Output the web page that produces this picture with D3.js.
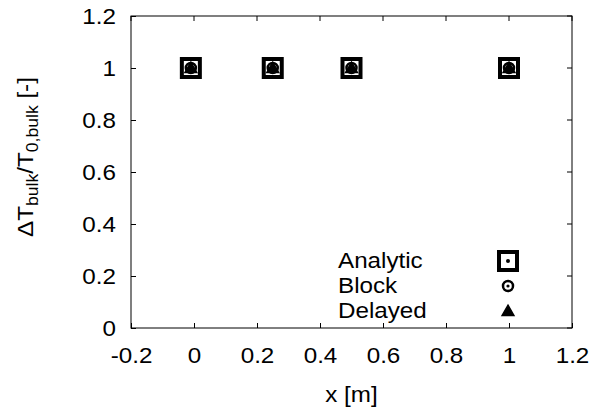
<!DOCTYPE html>
<html><head><meta charset="utf-8">
<script src="https://cdn.jsdelivr.net/npm/d3@7"></script>
<style>body{margin:0;background:#fff}svg{display:block;font-family:"Liberation Sans",Arial,sans-serif}</style>
</head><body><svg id="c" width="593" height="412"></svg>
<script>
const xPositions = [-0.01, 0.25, 0.5, 1.0];
const analytic = [1, 1, 1, 1];
const block = [1, 1, 1, 1];
const delayed = [1, 1, 1, 1];
const seriesNames = ["Analytic", "Block", "Delayed"];
const xTicks = [-0.2, 0, 0.2, 0.4, 0.6, 0.8, 1, 1.2];
const yTicks = [0, 0.2, 0.4, 0.6, 0.8, 1, 1.2];

const svg = d3.select("#c");
const L = 131, R = 572, T = 16, B = 328;
const x = d3.scaleLinear().domain([-0.2, 1.2]).range([L, R]);
const y = d3.scaleLinear().domain([0, 1.2]).range([B, T]);
const fs = 22, sx = 1.1;

svg.append("rect").attr("x", L).attr("y", T).attr("width", R - L).attr("height", B - T)
  .attr("fill", "none").attr("stroke", "#000").attr("stroke-width", 1);

const fmt = d => String(+d.toFixed(1)).replace("\u2212", "-");
const xa = svg.append("g").attr("transform", `translate(0,${B})`)
  .call(d3.axisBottom(x).tickValues(xTicks).tickSize(-5).tickPadding(19).tickFormat(fmt));
const ya = svg.append("g").attr("transform", `translate(${L},0)`)
  .call(d3.axisLeft(y).tickValues(yTicks).tickSize(-5).tickPadding(15).tickFormat(fmt));
[xa, ya].forEach(a => {
  a.select(".domain").remove();
  a.selectAll("text").attr("font-size", fs).attr("font-family", "Liberation Sans, Arial, sans-serif").attr("fill", "#000");
  a.selectAll("line").attr("stroke", "#000");
});
svg.append("g").selectAll("line").data(xTicks).join("line")
  .attr("x1", d => x(d)).attr("x2", d => x(d)).attr("y1", T).attr("y2", T + 5).attr("stroke", "#000");
svg.append("g").selectAll("line").data(yTicks).join("line")
  .attr("x1", R).attr("x2", R - 5).attr("y1", d => y(d)).attr("y2", d => y(d)).attr("stroke", "#000");

svg.append("text").attr("x", (L + R) / 2).attr("y", 402).attr("text-anchor", "middle")
  .attr("font-size", fs).text("x [m]");
const yl = svg.append("text").attr("class", "ylab").attr("transform", "translate(33,157) rotate(-90)")
  .attr("text-anchor", "middle").attr("font-size", fs);
yl.append("tspan").text("ΔT");
yl.append("tspan").attr("font-size", 16).attr("dy", 5).text("bulk");
yl.append("tspan").attr("dy", -5).text("/T");
yl.append("tspan").attr("font-size", 16).attr("dy", 5).text("0,bulk");
yl.append("tspan").attr("dy", -5).text(" [-]");

function drawSquare(g, cx, cy) {
  g.append("rect").attr("x", cx - 9).attr("y", cy - 9).attr("width", 18).attr("height", 18)
    .attr("fill", "none").attr("stroke", "#000").attr("stroke-width", 4);
  g.append("circle").attr("cx", cx).attr("cy", cy).attr("r", 2).attr("fill", "#000");
}
function drawCircle(g, cx, cy) {
  g.append("circle").attr("cx", cx).attr("cy", cy).attr("r", 5).attr("fill", "none")
    .attr("stroke", "#000").attr("stroke-width", 2.5);
  g.append("circle").attr("cx", cx).attr("cy", cy).attr("r", 1.6).attr("fill", "#000");
}
function drawTri(g, cx, cy) {
  g.append("path").attr("d", d3.symbol(d3.symbolTriangle, 60)()).attr("transform", `translate(${cx},${cy + 1})`)
    .attr("fill", "#000").attr("stroke", "#000").attr("stroke-width", 1.5);
}
const painters = [drawSquare, drawCircle, drawTri];
const data = [analytic, block, delayed];

const pts = svg.append("g");
data.forEach((vals, si) => {
  vals.forEach((v, i) => painters[si](pts, x(xPositions[i]), y(v)));
});

const lg = svg.append("g");
seriesNames.forEach((n, i) => {
  const cy = 261 + i * 25;
  lg.append("text").attr("x", 338).attr("y", cy + 7).attr("font-size", fs).text(n);
  painters[i](lg, 508, cy);
});

// horizontal stretch of all text to match the reference's wide glyphs
svg.selectAll("text").each(function () {
  const t = d3.select(this);
  const x0 = +(t.attr("x") || 0);
  t.attr("x", x0 / sx);
  const tr = t.attr("transform") || "";
  t.attr("transform", (tr + ` scale(${sx},1)`).trim());
});
</script></body></html>
